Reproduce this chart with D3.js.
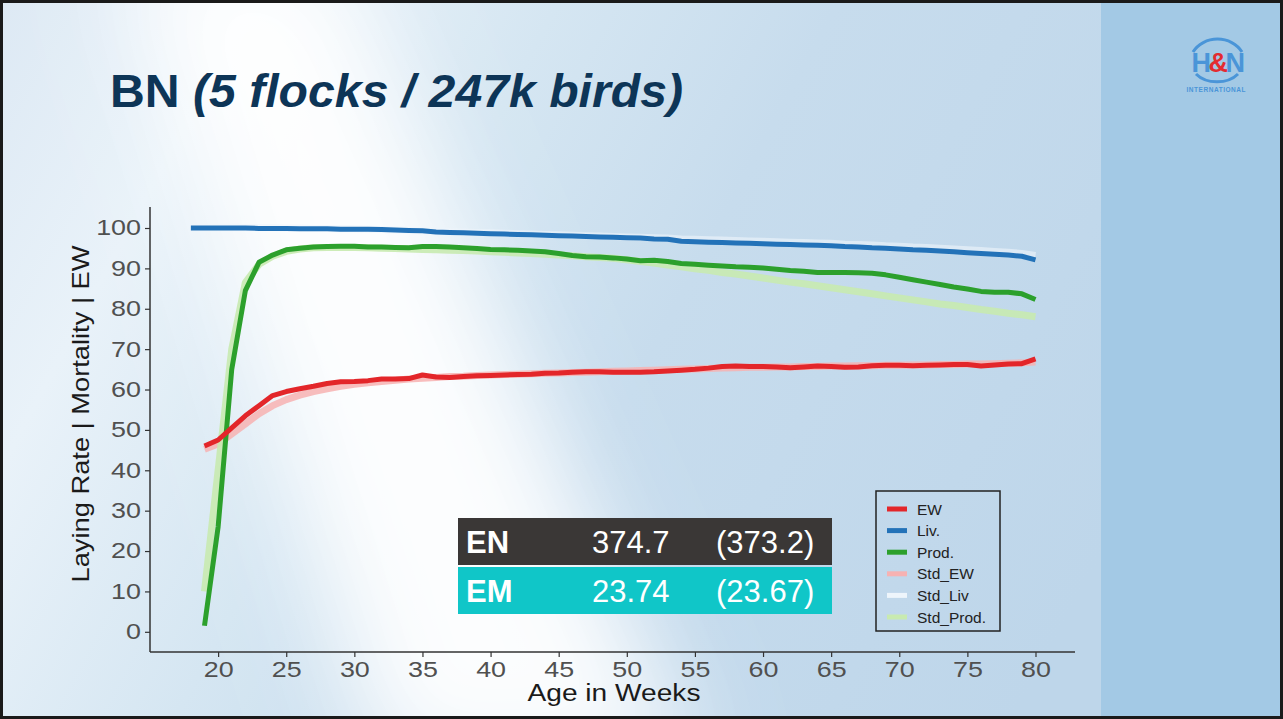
<!DOCTYPE html>
<html><head><meta charset="utf-8">
<script src="https://cdn.jsdelivr.net/npm/d3@7"></script>
<style>html,body{margin:0;padding:0;overflow:hidden;background:#fff}svg{display:block}</style>
</head><body>
<script>
// ---------- data ----------
const titleMain = "BN ";
const titleItalic = "(5 flocks / 247k birds)";
const xTicks = [20,25,30,35,40,45,50,55,60,65,70,75,80];
const yTicks = [0,10,20,30,40,50,60,70,80,90,100];
const weeksA = d3.range(19, 81);   // 19..80
const weeksB = d3.range(18, 81);   // 18..80

const ew = [46,47.5,50.5,53.5,56,58.5,59.5,60.2,60.8,61.5,61.9,62.0,62.2,62.6,62.6,62.7,63.6,63.1,63.0,63.2,63.4,63.5,63.6,63.7,63.8,64.0,64.1,64.3,64.4,64.4,64.3,
  64.3,64.3,64.4,64.6,64.8,65.0,65.3,65.7,65.8,65.7,65.7,65.6,65.4,65.6,65.8,65.7,65.5,65.6,65.9,66.0,66.0,65.9,66.0,66.1,66.2,66.2,65.8,66.1,66.3,66.4,67.6];
const stdEw = [45.2,46.5,49,51.5,54,56,57.5,58.6,59.5,60.2,60.8,61.3,61.7,62.0,62.3,62.6,62.8,63.0,63.2,63.3,63.5,63.6,63.7,63.8,63.9,64.0,64.1,64.2,64.3,64.4,64.5,
  64.6,64.7,64.8,64.9,65.0,65.1,65.2,65.3,65.4,65.5,65.5,65.6,65.6,65.7,65.7,65.8,65.8,65.9,65.9,66.0,66.0,66.1,66.1,66.2,66.2,66.3,66.3,66.4,66.5,66.6,66.8];
const prod = [1.5,26,65,84.5,91.5,93.3,94.6,95.0,95.3,95.4,95.5,95.5,95.3,95.3,95.2,95.1,95.4,95.4,95.3,95.1,94.9,94.7,94.6,94.5,94.3,94.1,93.7,93.2,92.9,92.8,92.6,
  92.3,91.9,92.0,91.7,91.2,91.0,90.8,90.6,90.4,90.3,90.1,89.8,89.5,89.3,89.0,89.0,89.0,88.9,88.8,88.4,87.8,87.2,86.6,86.0,85.4,84.9,84.3,84.1,84.1,83.7,82.3];
const stdProd = [10,40,70,86.5,91,93,94.2,94.8,95.1,95.2,95.2,95.2,95.1,95.0,94.9,94.8,94.7,94.6,94.5,94.4,94.3,94.1,94.0,93.8,93.7,93.5,93.3,93.1,92.9,92.7,92.5,
  92.1,91.7,91.3,90.8,90.4,89.9,89.5,89.0,88.6,88.1,87.6,87.1,86.6,86.2,85.7,85.2,84.7,84.2,83.7,83.2,82.7,82.2,81.7,81.2,80.8,80.3,79.8,79.4,78.9,78.5,78.0];
const liv = [100,100,100,100,100,99.9,99.9,99.9,99.8,99.8,99.8,99.7,99.7,99.7,99.6,99.5,99.4,99.3,99.0,98.9,98.8,98.7,98.6,98.5,98.4,98.3,98.2,98.1,98.0,97.9,97.8,97.7,
  97.6,97.5,97.3,97.2,96.7,96.6,96.5,96.4,96.3,96.2,96.1,96.0,95.9,95.8,95.7,95.6,95.4,95.3,95.1,95.0,94.8,94.6,94.5,94.3,94.1,93.9,93.7,93.5,93.3,93.0,92.1];
const stdLiv = [100.2,100.2,100.2,100.2,100.1,100.1,100.1,100.0,100.0,99.9,99.9,99.8,99.8,99.7,99.6,99.5,99.4,99.3,99.2,99.1,99.0,98.9,98.8,98.7,98.6,98.5,98.4,98.3,98.2,98.1,98.0,97.9,
  97.8,97.7,97.6,97.5,97.3,97.2,97.1,97.0,96.9,96.8,96.7,96.6,96.5,96.4,96.3,96.2,96.0,95.9,95.8,95.6,95.5,95.3,95.2,95.0,94.8,94.6,94.4,94.2,94.0,93.7,93.2];

const legendLabels = ["EW","Liv.","Prod.","Std_EW","Std_Liv","Std_Prod."];
const tableRows = [["EN","374.7","(373.2)"],["EM","23.74","(23.67)"]];

// ---------- drawing ----------
const W = 1283, H = 719;
const FONT = "Liberation Sans, Arial, Helvetica, sans-serif";
const svg = d3.select("body").append("svg").attr("width", W).attr("height", H);
const defs = svg.append("defs");

const bg = defs.append("linearGradient").attr("id","bg").attr("x1","0").attr("x2","1").attr("y1","0").attr("y2","0.3");
[["0%","#dde9f4"],["18%","#e9f2f9"],["40%","#d5e6f2"],["60%","#c7dced"],["100%","#bed6ea"]].forEach(s=>bg.append("stop").attr("offset",s[0]).attr("stop-color",s[1]));
const blur = defs.append("filter").attr("id","blur").attr("x","-50%").attr("y","-50%").attr("width","200%").attr("height","200%");
blur.append("feGaussianBlur").attr("stdDeviation", 50);

svg.append("rect").attr("width",W).attr("height",H).attr("fill","url(#bg)");
svg.append("path").attr("d","M120,-60 L330,-60 L700,780 L380,780 Z").attr("fill","#ffffff").attr("opacity",0.95).attr("filter","url(#blur)");
svg.append("rect").attr("x",1101).attr("y",0).attr("width",W-1101).attr("height",H).attr("fill","#a3c9e5");
svg.append("rect").attr("x",1.5).attr("y",1.5).attr("width",W-3).attr("height",H-3).attr("fill","none").attr("stroke","#1a1a1a").attr("stroke-width",3);

// logo
const lg = svg.append("g");
lg.append("path").attr("d","M1193,52 A28,25 0 0 1 1242,52").attr("fill","none").attr("stroke","#4a95d8").attr("stroke-width",3);
lg.append("path").attr("d","M1196,74 A26,19 0 0 0 1238,74").attr("fill","none").attr("stroke","#4a95d8").attr("stroke-width",3);
const lt = lg.append("text").attr("x",1217).attr("y",72).attr("text-anchor","middle")
  .attr("font-family",FONT).attr("font-weight","bold").attr("font-size",27).attr("letter-spacing",-2.5);
lt.append("tspan").attr("fill","#4a95d8").text("H");
lt.append("tspan").attr("fill","#e32b30").text("&");
lt.append("tspan").attr("fill","#4a95d8").text("N");
lg.append("text").attr("x",1216).attr("y",92).attr("text-anchor","middle").attr("font-family",FONT)
  .attr("font-size",6.5).attr("font-weight","bold").attr("fill","#4a95d8").attr("textLength",59).text("INTERNATIONAL");

// title
const tt = svg.append("text").attr("x",110).attr("y",107).attr("fill","#0d3557")
  .attr("font-family",FONT).attr("font-weight","bold").attr("font-size",47)
  .attr("textLength",573).attr("lengthAdjust","spacingAndGlyphs");
tt.append("tspan").text(titleMain);
tt.append("tspan").attr("font-style","italic").text(titleItalic);

// scales
const x = d3.scaleLinear().domain([15, 82.9]).range([150, 1075]);
const y = d3.scaleLinear().domain([-5, 105.2]).range([652, 207]);

// axes
const gx = svg.append("g").attr("transform","translate(0,652)")
  .call(d3.axisBottom(x).tickValues(xTicks).tickSize(5).tickPadding(5).tickSizeOuter(0));
const gy = svg.append("g").attr("transform","translate(150,0)")
  .call(d3.axisLeft(y).tickValues(yTicks).tickSize(5).tickPadding(4).tickSizeOuter(0));
[gx, gy].forEach(g => {
  g.select(".domain").attr("stroke","#333").attr("stroke-width",1.5);
  g.selectAll(".tick line").attr("stroke","#333").attr("stroke-width",1.2);
  g.selectAll(".tick text").attr("fill","#505050").attr("font-family",FONT).attr("font-size",21.5)
    .each(function(){ const w = this.getComputedTextLength(); d3.select(this).attr("textLength", w*1.25).attr("lengthAdjust","spacingAndGlyphs"); });
});
gx.select(".domain").attr("d","M150,0H1075");
gy.select(".domain").attr("d","M0,207V652");

svg.append("text").attr("x",614).attr("y",701).attr("text-anchor","middle").attr("fill","#1a1a1a")
  .attr("font-family",FONT).attr("font-size",23).attr("textLength",173).attr("lengthAdjust","spacingAndGlyphs").text("Age in Weeks");
svg.append("text").attr("transform","translate(89,414) rotate(-90)").attr("text-anchor","middle").attr("fill","#1a1a1a")
  .attr("font-family",FONT).attr("font-size",24).attr("textLength",337).attr("lengthAdjust","spacingAndGlyphs").text("Laying Rate | Mortality | EW");

// lines
const line = d3.line().x(d=>x(d[0])).y(d=>y(d[1]));
const series = [
  {w: weeksB, v: stdLiv, c:"#eef5fb", sw:7, op:0.6},
  {w: weeksA, v: stdEw, c:"#f7b2b2", sw:7, op:0.85},
  {w: weeksA, v: stdProd, c:"#c8eab0", sw:7, op:0.9},
  {w: weeksB, v: liv, c:"#2372b8", sw:5, op:1},
  {w: weeksA, v: prod, c:"#2ca02c", sw:5, op:1},
  {w: weeksA, v: ew, c:"#e3262a", sw:5, op:1}
];
series.forEach(s => {
  svg.append("path").datum(s.w.map((w,i)=>[w, s.v[i]])).attr("d", line)
    .attr("fill","none").attr("stroke", s.c).attr("stroke-width", s.sw).attr("stroke-opacity", s.op)
    .attr("stroke-linejoin","round").attr("stroke-linecap","butt");
});

// table
const tg = svg.append("g");
const rowCols = ["#3a3736","#10c6c8"];
tableRows.forEach((r,i) => {
  const y0 = 518 + i*49;
  tg.append("rect").attr("x",458).attr("y",y0).attr("width",374).attr("height",47).attr("fill",rowCols[i]);
  tg.append("text").attr("x",466).attr("y",y0+35).attr("fill","#fff").attr("font-family",FONT)
    .attr("font-weight","bold").attr("font-size",31).text(r[0]);
  tg.append("text").attr("x",592).attr("y",y0+35).attr("fill","#fff").attr("font-family",FONT)
    .attr("font-size",31).text(r[1]);
  tg.append("text").attr("x",716).attr("y",y0+35).attr("fill","#fff").attr("font-family",FONT)
    .attr("font-size",31).text(r[2]);
});

// legend
const lgd = svg.append("g");
lgd.append("rect").attr("x",876).attr("y",491).attr("width",124).attr("height",140).attr("fill","none").attr("stroke","#222").attr("stroke-width",1.5);
const legCols = ["#e3262a","#2372b8","#2ca02c","#f7b2b2","#eef5fb","#c8eab0"];
legendLabels.forEach((l,i) => {
  const yy = 509 + i*21.6;
  lgd.append("line").attr("x1",887).attr("x2",907).attr("y1",yy).attr("y2",yy).attr("stroke",legCols[i]).attr("stroke-width",5);
  lgd.append("text").attr("x",917).attr("y",yy+5.5).attr("fill","#222").attr("font-family",FONT)
    .attr("font-size",15.5).text(l);
});
</script>
</body></html>
